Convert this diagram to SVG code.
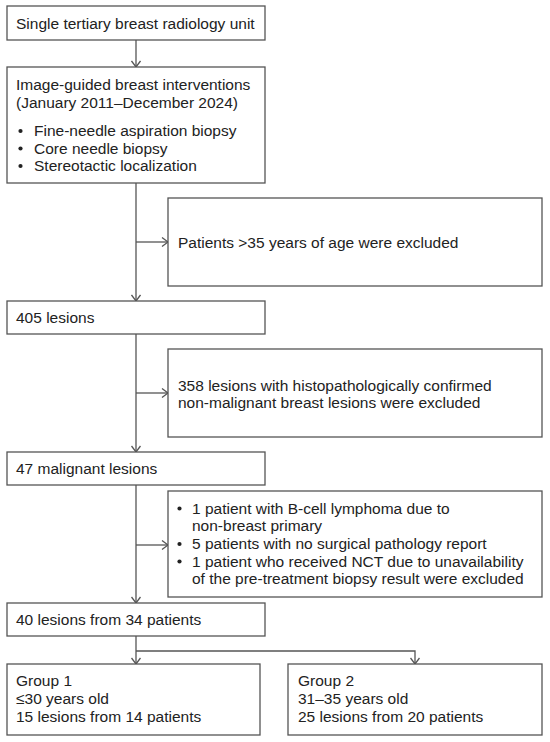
<svg xmlns="http://www.w3.org/2000/svg" width="550" height="742" viewBox="0 0 550 742">
<style>
.box{fill:#fff;stroke:#555;stroke-width:1.3}
.t{font-family:"Liberation Sans",Arial,sans-serif;font-size:15.5px;fill:#222}
.c{fill:none;stroke:#555;stroke-width:1.3}
.b{fill:#222}
</style>
<defs>
<marker id="ah" viewBox="0 0 10 10" refX="10" refY="5" markerWidth="10" markerHeight="10" markerUnits="userSpaceOnUse" orient="auto">
<path d="M4,0.5 L10,5 L4,9.5" fill="none" stroke="#555" stroke-width="1.3"/>
</marker>
</defs>
<rect width="550" height="742" fill="#fff"/>
<g id="connectors">
<line class="c" x1="136" y1="40" x2="136" y2="67" marker-end="url(#ah)"/>
<line class="c" x1="136" y1="183" x2="136" y2="301" marker-end="url(#ah)"/>
<line class="c" x1="136" y1="242" x2="168" y2="242" marker-end="url(#ah)"/>
<line class="c" x1="136" y1="334" x2="136" y2="452" marker-end="url(#ah)"/>
<line class="c" x1="136" y1="393" x2="168" y2="393" marker-end="url(#ah)"/>
<line class="c" x1="136" y1="485" x2="136" y2="603" marker-end="url(#ah)"/>
<line class="c" x1="136" y1="545" x2="168" y2="545" marker-end="url(#ah)"/>
<line class="c" x1="136" y1="636" x2="136" y2="664" marker-end="url(#ah)"/>
<polyline class="c" points="136,651 415,651 415,664" marker-end="url(#ah)"/>
</g>
<g id="n1">
<rect class="box" x="7" y="6" width="258" height="34"/>
<text class="t" x="16" y="28.5">Single tertiary breast radiology unit</text>
</g>
<g id="n2">
<rect class="box" x="7" y="67" width="258" height="116"/>
<text class="t" x="16" y="90">Image-guided breast interventions</text>
<text class="t" x="16" y="107.5">(January 2011–December 2024)</text>
<circle class="b" cx="20.5" cy="131" r="2.1"/>
<text class="t" x="34" y="136">Fine-needle aspiration biopsy</text>
<circle class="b" cx="20.5" cy="148.5" r="2.1"/>
<text class="t" x="34" y="153.5">Core needle biopsy</text>
<circle class="b" cx="20.5" cy="166" r="2.1"/>
<text class="t" x="34" y="171">Stereotactic localization</text>
</g>
<g id="ex1">
<rect class="box" x="168" y="198" width="374" height="88"/>
<text class="t" x="178" y="247.5">Patients &gt;35 years of age were excluded</text>
</g>
<g id="n3">
<rect class="box" x="7" y="301" width="258" height="33"/>
<text class="t" x="16" y="323">405 lesions</text>
</g>
<g id="ex2">
<rect class="box" x="168" y="349" width="374" height="88"/>
<text class="t" x="178" y="390.5">358 lesions with histopathologically confirmed</text>
<text class="t" x="178" y="408">non-malignant breast lesions were excluded</text>
</g>
<g id="n4">
<rect class="box" x="7" y="452" width="258" height="33"/>
<text class="t" x="16" y="474">47 malignant lesions</text>
</g>
<g id="ex3">
<rect class="box" x="168" y="491" width="374" height="106"/>
<circle class="b" cx="179.5" cy="508.5" r="2.1"/>
<text class="t" x="192" y="513.5">1 patient with B-cell lymphoma due to</text>
<text class="t" x="192" y="531">non-breast primary</text>
<circle class="b" cx="179.5" cy="544" r="2.1"/>
<text class="t" x="192" y="549">5 patients with no surgical pathology report</text>
<circle class="b" cx="179.5" cy="561.5" r="2.1"/>
<text class="t" x="192" y="566.5">1 patient who received NCT due to unavailability</text>
<text class="t" x="192" y="584">of the pre-treatment biopsy result were excluded</text>
</g>
<g id="n5">
<rect class="box" x="7" y="603" width="258" height="33"/>
<text class="t" x="16" y="625">40 lesions from 34 patients</text>
</g>
<g id="g1">
<rect class="box" x="7" y="664" width="253" height="71"/>
<text class="t" x="16" y="686">Group 1</text>
<text class="t" x="16" y="704">≤30 years old</text>
<text class="t" x="16" y="722">15 lesions from 14 patients</text>
</g>
<g id="g2">
<rect class="box" x="288" y="664" width="254" height="71"/>
<text class="t" x="298" y="686">Group 2</text>
<text class="t" x="298" y="704">31–35 years old</text>
<text class="t" x="298" y="722">25 lesions from 20 patients</text>
</g>
</svg>
